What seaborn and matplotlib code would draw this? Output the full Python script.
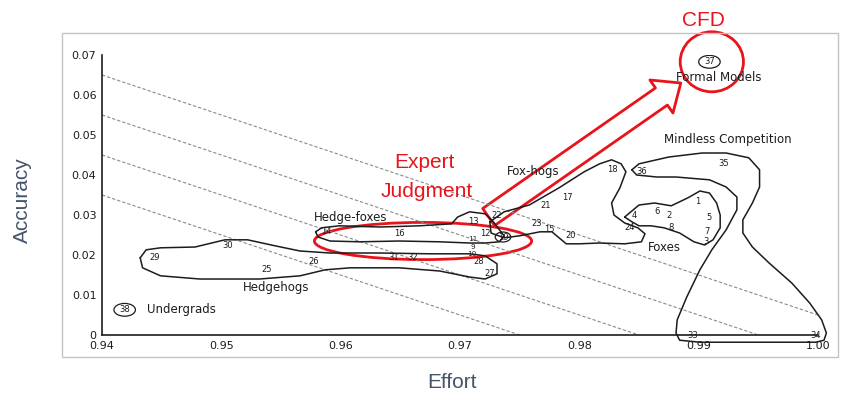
# ==========================================
# EXPERT JUDGMENT: ACCURACY vs EFFORT (scanned chart redraw)
# ==========================================

import matplotlib
matplotlib.use("Agg")
import matplotlib.pyplot as plt
import seaborn as sns
from matplotlib.patches import Ellipse, Rectangle, FancyArrowPatch
from matplotlib.ticker import FuncFormatter

# ==========================================
# DATA
# ==========================================

# numbered forecasters / models
point_ids = [1, 2, 3, 4, 5, 6, 7, 8, 9, 10, 11, 12, 13, 14, 15, 16, 17, 18, 19,
             20, 21, 22, 23, 24, 25, 26, 27, 28, 29, 30, 31, 32, 33, 34, 35, 36, 37, 38]
point_effort = [0.9899, 0.9875, 0.9906, 0.9846, 0.9909, 0.9865, 0.9907, 0.9877,
                0.9711, 0.9710, 0.9711, 0.9721, 0.9711, 0.9588, 0.9775, 0.9649,
                0.9790, 0.9828, 0.9736, 0.9793, 0.9772, 0.9731, 0.9764, 0.9842,
                0.9538, 0.9577, 0.9725, 0.9716, 0.9444, 0.9505, 0.9644, 0.9660,
                0.9895, 0.9998, 0.9921, 0.9852, 0.9909, 0.9419]
point_accuracy = [0.0333, 0.0300, 0.0233, 0.0300, 0.0293, 0.0308, 0.0258, 0.0270,
                  0.0221, 0.0203, 0.0240, 0.0255, 0.0283, 0.0258, 0.0263, 0.0255,
                  0.0343, 0.0413, 0.0245, 0.0248, 0.0325, 0.0298, 0.0280, 0.0268,
                  0.0163, 0.0183, 0.0155, 0.0184, 0.0193, 0.0225, 0.0193, 0.0195,
                  0.0000, 0.0000, 0.0430, 0.0408, 0.0683, 0.0063]
circled_ids = [19, 37, 38]

# group names
group_names = ["Hedge-foxes", "Hedgehogs", "Undergrads", "Fox-hogs",
               "Formal Models", "Mindless Competition", "Foxes"]
group_effort = [0.9608, 0.9546, 0.9475, 0.9761, 0.9917, 0.9924, 0.9871]
group_accuracy = [0.0293, 0.0120, 0.0063, 0.0408, 0.0645, 0.0488, 0.0218]

# group outlines
hedgehogs_x = [0.9432, 0.9437, 0.9449, 0.9478, 0.9503, 0.9522, 0.9545, 0.9566, 0.9591,
               0.9633, 0.9675, 0.9708, 0.9721, 0.9731, 0.9731, 0.9721, 0.9708, 0.9683,
               0.9649, 0.9608, 0.9587, 0.9566, 0.9532, 0.9482, 0.9449, 0.9434, 0.9432]
hedgehogs_y = [0.0193, 0.0213, 0.0218, 0.0220, 0.0238, 0.0238, 0.0223, 0.0210, 0.0205,
               0.0205, 0.0203, 0.0203, 0.0198, 0.0178, 0.0153, 0.0140, 0.0145, 0.0160,
               0.0168, 0.0168, 0.0163, 0.0148, 0.0140, 0.0140, 0.0148, 0.0168, 0.0193]

hedgefoxes_x = [0.9579, 0.9584, 0.9599, 0.9633, 0.9666, 0.9693, 0.9698, 0.9708, 0.9721,
                0.9728, 0.9733, 0.9737, 0.9733, 0.9721, 0.9708, 0.9683, 0.9649, 0.9616,
                0.9591, 0.9581, 0.9579]
hedgefoxes_y = [0.0258, 0.0268, 0.0273, 0.0270, 0.0273, 0.0278, 0.0295, 0.0308, 0.0303,
                0.0283, 0.0263, 0.0248, 0.0233, 0.0230, 0.0230, 0.0233, 0.0235, 0.0233,
                0.0235, 0.0245, 0.0258]

foxhogs_x = [0.9725, 0.9737, 0.9758, 0.9783, 0.9804, 0.9817, 0.9827, 0.9835, 0.9839,
             0.9834, 0.9827, 0.9829, 0.9838, 0.9849, 0.9855, 0.9852, 0.9838, 0.9817,
             0.9800, 0.9789, 0.9783, 0.9777, 0.9767, 0.9750, 0.9737, 0.9726, 0.9725]
foxhogs_y = [0.0283, 0.0308, 0.0325, 0.0368, 0.0408, 0.0428, 0.0438, 0.0428, 0.0408,
             0.0368, 0.0330, 0.0300, 0.0280, 0.0268, 0.0253, 0.0233, 0.0228, 0.0230,
             0.0228, 0.0228, 0.0243, 0.0258, 0.0258, 0.0248, 0.0243, 0.0255, 0.0283]

foxes_x = [0.9838, 0.9850, 0.9863, 0.9877, 0.9891, 0.9901, 0.9909, 0.9915, 0.9918,
           0.9918, 0.9912, 0.9905, 0.9896, 0.9884, 0.9871, 0.9860, 0.9850, 0.9844, 0.9838]
foxes_y = [0.0295, 0.0325, 0.0330, 0.0323, 0.0343, 0.0360, 0.0355, 0.0330, 0.0300,
           0.0268, 0.0238, 0.0225, 0.0233, 0.0255, 0.0268, 0.0273, 0.0273, 0.0283, 0.0295]

mindless_x = [0.9844, 0.9850, 0.9875, 0.9903, 0.9923, 0.9942, 0.9951, 0.9951, 0.9945,
              0.9937, 0.9937, 0.9945, 0.9959, 0.9978, 0.9993, 1.0003, 1.0007, 1.0005,
              0.9998, 0.9951, 0.9901, 0.9884, 0.9881, 0.9882, 0.9890, 0.9901, 0.9911,
              0.9923, 0.9932, 0.9932, 0.9923, 0.9909, 0.9881, 0.9865, 0.9848, 0.9844]
mindless_y = [0.0413, 0.0428, 0.0445, 0.0455, 0.0455, 0.0443, 0.0413, 0.0370, 0.0330,
              0.0288, 0.0255, 0.0220, 0.0180, 0.0130, 0.0080, 0.0038, 0.0005, -0.0013,
              -0.0018, -0.0018, -0.0018, -0.0013, 0.0005, 0.0038, 0.0095, 0.0163, 0.0213,
              0.0263, 0.0313, 0.0345, 0.0370, 0.0388, 0.0395, 0.0395, 0.0400, 0.0413]

outlines = [(hedgehogs_x, hedgehogs_y), (hedgefoxes_x, hedgefoxes_y),
            (foxhogs_x, foxhogs_y), (foxes_x, foxes_y), (mindless_x, mindless_y)]

# dashed iso-lines (start / end of each)
iso_effort = [[0.940, 0.975], [0.940, 0.985], [0.940, 0.995], [0.940, 1.000]]
iso_accuracy = [[0.035, 0.000], [0.045, 0.000], [0.055, 0.000], [0.065, 0.005]]

# red overlay annotations
expert_center = (0.9669, 0.0235)
expert_size = (0.0182, 0.0093)
cfd_center = (0.9911, 0.0683)
cfd_size = (0.0053, 0.0150)
arrow_tail = (0.9724, 0.0295)
arrow_tip = (0.9885, 0.0630)

x_ticks = [0.94, 0.95, 0.96, 0.97, 0.98, 0.99, 1.00]
y_ticks = [0, 0.01, 0.02, 0.03, 0.04, 0.05, 0.06, 0.07]

# ==========================================
# STYLE
# ==========================================

sns.set_theme(style="white")
plt.rcParams["font.family"] = ["DejaVu Sans"]

INK = "#1c1c1c"
RED = "#e8141c"
SLATE = "#44546a"

fig = plt.figure(figsize=(8.5, 4.05), dpi=100)
ax = fig.add_axes([0.120, 0.1728, 0.8424, 0.6914])

# scan frame
fig.patches.append(Rectangle((62 / 850, 1 - 357 / 405), 776 / 850, 324 / 405,
                             transform=fig.transFigure, fill=False,
                             ec="#c4c4c4", lw=1.0))

# ==========================================
# PLOT
# ==========================================

for xs, ys in zip(iso_effort, iso_accuracy):
    sns.lineplot(x=xs, y=ys, ax=ax, color="#8a8a8a", lw=0.8, sort=False,
                 estimator=None)
    ax.lines[-1].set_dashes((3, 1.8))

for xs, ys in outlines:
    sns.lineplot(x=xs, y=ys, ax=ax, color=INK, lw=1.1, sort=False, estimator=None)
    ax.lines[-1].set_clip_on(False)
    ax.lines[-1].set_solid_joinstyle("round")

for pid, ex, ac in zip(point_ids, point_effort, point_accuracy):
    small = pid in (9, 10, 11)
    ax.text(ex, ac, str(pid), fontsize=5.2 if small else 6, color=INK,
            ha="center", va="center", clip_on=False)
    if pid in circled_ids:
        w = 0.0013 if pid == 19 else 0.0018
        h = 0.0025 if pid == 19 else 0.0032
        ax.add_patch(Ellipse((ex, ac), w, h, fill=False, ec=INK, lw=0.9))

for name, ex, ac in zip(group_names, group_effort, group_accuracy):
    ha = "left" if name == "Undergrads" else "center"
    ax.text(ex if ha == "center" else ex - 0.0037, ac, name, fontsize=8.5,
            color=INK, ha=ha, va="center")

# red overlays
ax.add_patch(Ellipse(expert_center, *expert_size, fill=False, ec=RED, lw=2.0))
ax.add_patch(Ellipse(cfd_center, *cfd_size, fill=False, ec=RED, lw=2.0,
                     clip_on=False))
ax.add_patch(FancyArrowPatch(arrow_tail, arrow_tip,
                             arrowstyle="simple,head_length=17,head_width=29,tail_width=15",
                             fc="none", ec=RED, lw=2.0, clip_on=False,
                             shrinkA=0, shrinkB=0))
ax.text(0.9670, 0.0432, "Expert", fontsize=15, color=RED, ha="center",
        va="center", family=["Liberation Sans"])
ax.text(0.9672, 0.0358, "Judgment", fontsize=15, color=RED, ha="center",
        va="center", family=["Liberation Sans"])

# ==========================================
# AXES
# ==========================================

ax.set_xlim(0.94, 1.00)
ax.set_ylim(0, 0.07)
ax.set_xticks(x_ticks)
ax.set_yticks(y_ticks)
ax.xaxis.set_major_formatter(FuncFormatter(lambda v, p: f"{v:.2f}"))
ax.yaxis.set_major_formatter(FuncFormatter(lambda v, p: "0" if v == 0 else f"{v:.2f}"))
ax.tick_params(axis="both", direction="in", colors=INK, labelsize=8, width=1)
ax.tick_params(axis="x", length=4, pad=4)
ax.tick_params(axis="y", length=8, pad=4)
for s in ["top", "right"]:
    ax.spines[s].set_visible(False)
for s in ["left", "bottom"]:
    ax.spines[s].set_color(INK)
    ax.spines[s].set_linewidth(1.2)
ax.set_xlabel("")
ax.set_ylabel("")
ax.patch.set_alpha(0)

fig.text(22 / 850, 1 - 200 / 405, "Accuracy", rotation=90, fontsize=15,
         color=SLATE, ha="center", va="center", family=["Liberation Sans"])
fig.text(452 / 850, 1 - 383 / 405, "Effort", fontsize=15, color=SLATE,
         ha="center", va="center", family=["Liberation Sans"])
fig.text(703 / 850, 1 - 20 / 405, "CFD", fontsize=15, color=RED,
         ha="center", va="center", family=["Liberation Sans"])

fig.savefig("out.png", dpi=100)
